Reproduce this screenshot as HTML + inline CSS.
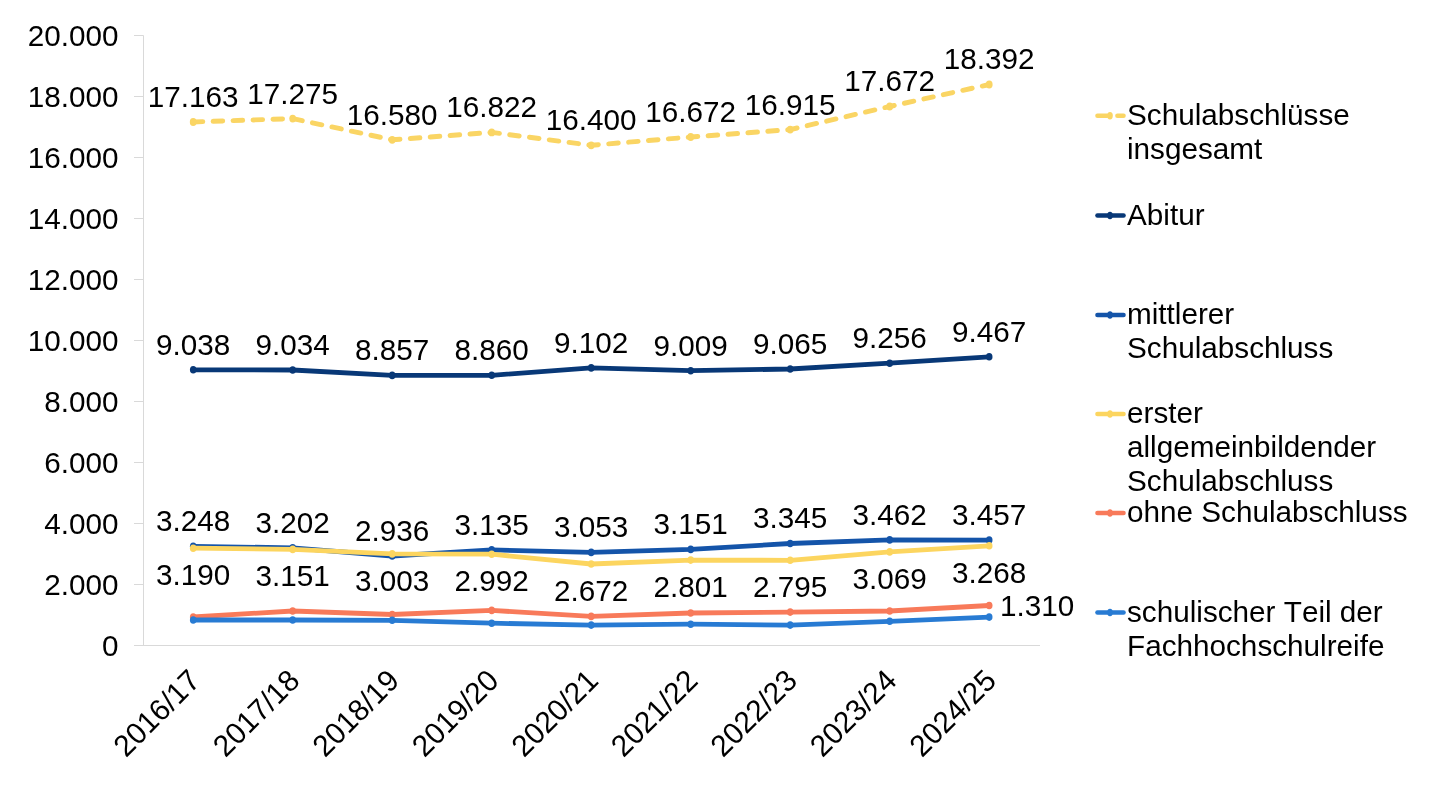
<!DOCTYPE html>
<html lang="de"><head><meta charset="utf-8"><title>Schulabschlüsse</title>
<style>html,body{margin:0;padding:0;background:#fff}body{width:1433px;height:792px;overflow:hidden}svg{display:block}text{font-family:"Liberation Sans",Arial,sans-serif;font-size:29.70px;fill:#000;font-kerning:none}text.lg{font-size:29.7px}</style></head><body>
<svg width="1433" height="792" viewBox="0 0 1433 792">
<rect width="1433" height="792" fill="#fff"/>
<g stroke="#d9d9d9" stroke-width="1" fill="none">
<line x1="143.5" y1="35.5" x2="143.5" y2="645.5"/>
<line x1="134.0" y1="645.5" x2="1040.0" y2="645.5"/>
<line x1="134.0" y1="584.5" x2="143.5" y2="584.5"/>
<line x1="134.0" y1="523.5" x2="143.5" y2="523.5"/>
<line x1="134.0" y1="462.5" x2="143.5" y2="462.5"/>
<line x1="134.0" y1="401.5" x2="143.5" y2="401.5"/>
<line x1="134.0" y1="340.5" x2="143.5" y2="340.5"/>
<line x1="134.0" y1="279.5" x2="143.5" y2="279.5"/>
<line x1="134.0" y1="218.5" x2="143.5" y2="218.5"/>
<line x1="134.0" y1="157.5" x2="143.5" y2="157.5"/>
<line x1="134.0" y1="96.5" x2="143.5" y2="96.5"/>
<line x1="134.0" y1="35.5" x2="143.5" y2="35.5"/>
</g>
<g text-anchor="end">
<text transform="translate(118.6,655.7) scale(1,1.015)">0</text>
<text transform="translate(118.6,594.7) scale(1,1.015)">2.000</text>
<text transform="translate(118.6,533.7) scale(1,1.015)">4.000</text>
<text transform="translate(118.6,472.7) scale(1,1.015)">6.000</text>
<text transform="translate(118.6,411.7) scale(1,1.015)">8.000</text>
<text transform="translate(118.6,350.7) scale(1,1.015)">10.000</text>
<text transform="translate(118.6,289.7) scale(1,1.015)">12.000</text>
<text transform="translate(118.6,228.7) scale(1,1.015)">14.000</text>
<text transform="translate(118.6,167.7) scale(1,1.015)">16.000</text>
<text transform="translate(118.6,106.7) scale(1,1.015)">18.000</text>
<text transform="translate(118.6,45.7) scale(1,1.015)">20.000</text>
</g>
<text text-anchor="end" transform="translate(201.9,682.3) rotate(-45) scale(1,1.015)">2016/17</text>
<text text-anchor="end" transform="translate(301.4,682.3) rotate(-45) scale(1,1.015)">2017/18</text>
<text text-anchor="end" transform="translate(400.9,682.3) rotate(-45) scale(1,1.015)">2018/19</text>
<text text-anchor="end" transform="translate(500.4,682.3) rotate(-45) scale(1,1.015)">2019/20</text>
<text text-anchor="end" transform="translate(599.9,682.3) rotate(-45) scale(1,1.015)">2020/21</text>
<text text-anchor="end" transform="translate(699.4,682.3) rotate(-45) scale(1,1.015)">2021/22</text>
<text text-anchor="end" transform="translate(798.9,682.3) rotate(-45) scale(1,1.015)">2022/23</text>
<text text-anchor="end" transform="translate(898.4,682.3) rotate(-45) scale(1,1.015)">2023/24</text>
<text text-anchor="end" transform="translate(997.9,682.3) rotate(-45) scale(1,1.015)">2024/25</text>
<polyline points="193.2,122.0 292.7,118.6 392.2,139.8 491.7,132.4 591.2,145.3 690.7,137.0 790.2,129.6 889.7,106.5 989.2,84.5" fill="none" stroke="#fad564" stroke-width="4.9" stroke-linecap="round" stroke-linejoin="round" stroke-dasharray="9.6 10.35"/>
<g fill="#fad564"><ellipse cx="193.2" cy="122.0" rx="3.4" ry="3.9"/><ellipse cx="292.7" cy="118.6" rx="3.4" ry="3.9"/><ellipse cx="392.2" cy="139.8" rx="3.4" ry="3.9"/><ellipse cx="491.7" cy="132.4" rx="3.4" ry="3.9"/><ellipse cx="591.2" cy="145.3" rx="3.4" ry="3.9"/><ellipse cx="690.7" cy="137.0" rx="3.4" ry="3.9"/><ellipse cx="790.2" cy="129.6" rx="3.4" ry="3.9"/><ellipse cx="889.7" cy="106.5" rx="3.4" ry="3.9"/><ellipse cx="989.2" cy="84.5" rx="3.4" ry="3.9"/></g>
<polyline points="193.2,369.8 292.7,370.0 392.2,375.4 491.7,375.3 591.2,367.9 690.7,370.7 790.2,369.0 889.7,363.2 989.2,356.8" fill="none" stroke="#083877" stroke-width="4.8" stroke-linecap="round" stroke-linejoin="round"/>
<g fill="#083877"><ellipse cx="193.2" cy="369.8" rx="3.3" ry="3.8"/><ellipse cx="292.7" cy="370.0" rx="3.3" ry="3.8"/><ellipse cx="392.2" cy="375.4" rx="3.3" ry="3.8"/><ellipse cx="491.7" cy="375.3" rx="3.3" ry="3.8"/><ellipse cx="591.2" cy="367.9" rx="3.3" ry="3.8"/><ellipse cx="690.7" cy="370.7" rx="3.3" ry="3.8"/><ellipse cx="790.2" cy="369.0" rx="3.3" ry="3.8"/><ellipse cx="889.7" cy="363.2" rx="3.3" ry="3.8"/><ellipse cx="989.2" cy="356.8" rx="3.3" ry="3.8"/></g>
<polyline points="193.2,546.4 292.7,547.8 392.2,556.0 491.7,549.9 591.2,552.4 690.7,549.4 790.2,543.5 889.7,539.9 989.2,540.1" fill="none" stroke="#1454a9" stroke-width="4.8" stroke-linecap="round" stroke-linejoin="round"/>
<g fill="#1454a9"><ellipse cx="193.2" cy="546.4" rx="3.3" ry="3.8"/><ellipse cx="292.7" cy="547.8" rx="3.3" ry="3.8"/><ellipse cx="392.2" cy="556.0" rx="3.3" ry="3.8"/><ellipse cx="491.7" cy="549.9" rx="3.3" ry="3.8"/><ellipse cx="591.2" cy="552.4" rx="3.3" ry="3.8"/><ellipse cx="690.7" cy="549.4" rx="3.3" ry="3.8"/><ellipse cx="790.2" cy="543.5" rx="3.3" ry="3.8"/><ellipse cx="889.7" cy="539.9" rx="3.3" ry="3.8"/><ellipse cx="989.2" cy="540.1" rx="3.3" ry="3.8"/></g>
<polyline points="193.2,548.2 292.7,549.4 392.2,553.9 491.7,554.2 591.2,564.0 690.7,560.1 790.2,560.3 889.7,551.9 989.2,545.8" fill="none" stroke="#fcd55f" stroke-width="4.8" stroke-linecap="round" stroke-linejoin="round"/>
<g fill="#fcd55f"><ellipse cx="193.2" cy="548.2" rx="3.3" ry="3.8"/><ellipse cx="292.7" cy="549.4" rx="3.3" ry="3.8"/><ellipse cx="392.2" cy="553.9" rx="3.3" ry="3.8"/><ellipse cx="491.7" cy="554.2" rx="3.3" ry="3.8"/><ellipse cx="591.2" cy="564.0" rx="3.3" ry="3.8"/><ellipse cx="690.7" cy="560.1" rx="3.3" ry="3.8"/><ellipse cx="790.2" cy="560.3" rx="3.3" ry="3.8"/><ellipse cx="889.7" cy="551.9" rx="3.3" ry="3.8"/><ellipse cx="989.2" cy="545.8" rx="3.3" ry="3.8"/></g>
<polyline points="193.2,617.0 292.7,611.0 392.2,614.5 491.7,610.4 591.2,616.4 690.7,613.0 790.2,612.1 889.7,611.0 989.2,605.5" fill="none" stroke="#f87a5a" stroke-width="4.8" stroke-linecap="round" stroke-linejoin="round"/>
<g fill="#f87a5a"><ellipse cx="193.2" cy="617.0" rx="3.3" ry="3.8"/><ellipse cx="292.7" cy="611.0" rx="3.3" ry="3.8"/><ellipse cx="392.2" cy="614.5" rx="3.3" ry="3.8"/><ellipse cx="491.7" cy="610.4" rx="3.3" ry="3.8"/><ellipse cx="591.2" cy="616.4" rx="3.3" ry="3.8"/><ellipse cx="690.7" cy="613.0" rx="3.3" ry="3.8"/><ellipse cx="790.2" cy="612.1" rx="3.3" ry="3.8"/><ellipse cx="889.7" cy="611.0" rx="3.3" ry="3.8"/><ellipse cx="989.2" cy="605.5" rx="3.3" ry="3.8"/></g>
<polyline points="193.2,620.0 292.7,620.0 392.2,620.3 491.7,623.2 591.2,625.1 690.7,624.2 790.2,625.1 889.7,621.3 989.2,617.1" fill="none" stroke="#287bd3" stroke-width="4.8" stroke-linecap="round" stroke-linejoin="round"/>
<g fill="#287bd3"><ellipse cx="193.2" cy="620.0" rx="3.3" ry="3.8"/><ellipse cx="292.7" cy="620.0" rx="3.3" ry="3.8"/><ellipse cx="392.2" cy="620.3" rx="3.3" ry="3.8"/><ellipse cx="491.7" cy="623.2" rx="3.3" ry="3.8"/><ellipse cx="591.2" cy="625.1" rx="3.3" ry="3.8"/><ellipse cx="690.7" cy="624.2" rx="3.3" ry="3.8"/><ellipse cx="790.2" cy="625.1" rx="3.3" ry="3.8"/><ellipse cx="889.7" cy="621.3" rx="3.3" ry="3.8"/><ellipse cx="989.2" cy="617.1" rx="3.3" ry="3.8"/></g>
<g text-anchor="middle">
<text transform="translate(193.2,106.9) scale(1,1.015)">17.163</text>
<text transform="translate(292.7,103.5) scale(1,1.015)">17.275</text>
<text transform="translate(392.2,124.7) scale(1,1.015)">16.580</text>
<text transform="translate(491.7,117.3) scale(1,1.015)">16.822</text>
<text transform="translate(591.2,130.2) scale(1,1.015)">16.400</text>
<text transform="translate(690.7,121.9) scale(1,1.015)">16.672</text>
<text transform="translate(790.2,114.5) scale(1,1.015)">16.915</text>
<text transform="translate(889.7,91.4) scale(1,1.015)">17.672</text>
<text transform="translate(989.2,69.4) scale(1,1.015)">18.392</text>
<text transform="translate(193.2,354.7) scale(1,1.015)">9.038</text>
<text transform="translate(292.7,354.9) scale(1,1.015)">9.034</text>
<text transform="translate(392.2,360.3) scale(1,1.015)">8.857</text>
<text transform="translate(491.7,360.2) scale(1,1.015)">8.860</text>
<text transform="translate(591.2,352.8) scale(1,1.015)">9.102</text>
<text transform="translate(690.7,355.6) scale(1,1.015)">9.009</text>
<text transform="translate(790.2,353.9) scale(1,1.015)">9.065</text>
<text transform="translate(889.7,348.1) scale(1,1.015)">9.256</text>
<text transform="translate(989.2,341.7) scale(1,1.015)">9.467</text>
<text transform="translate(193.2,531.3) scale(1,1.015)">3.248</text>
<text transform="translate(292.7,532.7) scale(1,1.015)">3.202</text>
<text transform="translate(392.2,540.9) scale(1,1.015)">2.936</text>
<text transform="translate(491.7,534.8) scale(1,1.015)">3.135</text>
<text transform="translate(591.2,537.3) scale(1,1.015)">3.053</text>
<text transform="translate(690.7,534.3) scale(1,1.015)">3.151</text>
<text transform="translate(790.2,528.4) scale(1,1.015)">3.345</text>
<text transform="translate(889.7,524.8) scale(1,1.015)">3.462</text>
<text transform="translate(989.2,525.0) scale(1,1.015)">3.457</text>
<text transform="translate(193.2,585.0) scale(1,1.015)">3.190</text>
<text transform="translate(292.7,586.2) scale(1,1.015)">3.151</text>
<text transform="translate(392.2,590.7) scale(1,1.015)">3.003</text>
<text transform="translate(491.7,591.0) scale(1,1.015)">2.992</text>
<text transform="translate(591.2,600.8) scale(1,1.015)">2.672</text>
<text transform="translate(690.7,596.9) scale(1,1.015)">2.801</text>
<text transform="translate(790.2,597.1) scale(1,1.015)">2.795</text>
<text transform="translate(889.7,588.7) scale(1,1.015)">3.069</text>
<text transform="translate(989.2,582.6) scale(1,1.015)">3.268</text>
</g>
<text transform="translate(1000.0,616.4) scale(1,1.015)">1.310</text>
<line x1="1097.5" y1="115.8" x2="1123.5" y2="115.8" stroke="#fad564" stroke-width="4.6" stroke-linecap="round" stroke-dasharray="9.6 10.35"/>
<ellipse cx="1110.0" cy="115.8" rx="2.8" ry="3.7" fill="#fad564"/>
<text class="lg" x="1127.0" y="125.1">Schulabschlüsse</text>
<text class="lg" x="1127.0" y="159.1">insgesamt</text>
<line x1="1097.5" y1="215.5" x2="1123.5" y2="215.5" stroke="#083877" stroke-width="4.6" stroke-linecap="round"/>
<ellipse cx="1110.0" cy="215.5" rx="2.8" ry="3.7" fill="#083877"/>
<text class="lg" x="1127.0" y="224.8">Abitur</text>
<line x1="1097.5" y1="315.0" x2="1123.5" y2="315.0" stroke="#1454a9" stroke-width="4.6" stroke-linecap="round"/>
<ellipse cx="1110.0" cy="315.0" rx="2.8" ry="3.7" fill="#1454a9"/>
<text class="lg" x="1127.0" y="324.3">mittlerer</text>
<text class="lg" x="1127.0" y="358.3">Schulabschluss</text>
<line x1="1097.5" y1="414.0" x2="1123.5" y2="414.0" stroke="#fcd55f" stroke-width="4.6" stroke-linecap="round"/>
<ellipse cx="1110.0" cy="414.0" rx="2.8" ry="3.7" fill="#fcd55f"/>
<text class="lg" x="1127.0" y="423.3">erster</text>
<text class="lg" x="1127.0" y="457.3">allgemeinbildender</text>
<text class="lg" x="1127.0" y="491.3">Schulabschluss</text>
<line x1="1097.5" y1="513.0" x2="1123.5" y2="513.0" stroke="#f87a5a" stroke-width="4.6" stroke-linecap="round"/>
<ellipse cx="1110.0" cy="513.0" rx="2.8" ry="3.7" fill="#f87a5a"/>
<text class="lg" x="1127.0" y="522.3">ohne Schulabschluss</text>
<line x1="1097.5" y1="612.5" x2="1123.5" y2="612.5" stroke="#287bd3" stroke-width="4.6" stroke-linecap="round"/>
<ellipse cx="1110.0" cy="612.5" rx="2.8" ry="3.7" fill="#287bd3"/>
<text class="lg" x="1127.0" y="621.8">schulischer Teil der</text>
<text class="lg" x="1127.0" y="655.8">Fachhochschulreife</text>
</svg></body></html>
